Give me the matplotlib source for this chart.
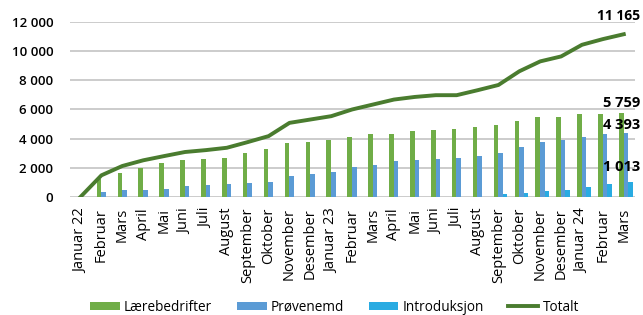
import numpy as np
import matplotlib.pyplot as plt

months = ["Januar 22", "Februar", "Mars", "April", "Mai", "Juni", "Juli",
          "August", "September", "Oktober", "November", "Desember",
          "Januar 23", "Februar", "Mars", "April", "Mai", "Juni", "Juli",
          "August", "September", "Oktober", "November", "Desember",
          "Januar 24", "Februar", "Mars"]

laerebedrifter = [0, 1200, 1620, 1960, 2300, 2510, 2580, 2640, 2990, 3260, 3670,
                  3740, 3880, 4080, 4290, 4350, 4490, 4560, 4630, 4770, 4900,
                  5240, 5450, 5510, 5690, 5690, 5759]
provenemd = [0, 340, 460, 460, 520, 730, 800, 870, 930, 1000, 1410, 1550, 1690,
             2030, 2170, 2440, 2510, 2580, 2640, 2780, 2990, 3400, 3740, 3910,
             4110, 4340, 4393]
introduksjon = [0, 0, 0, 0, 0, 0, 0, 0, 0, 0, 0, 0, 0, 0, 0, 0, 0, 0, 0, 0,
                180, 250, 390, 440, 690, 890, 1013]
totalt = [0, 1480, 2120, 2510, 2800, 3080, 3210, 3370, 3760, 4170, 5080, 5310,
          5540, 6000, 6340, 6680, 6860, 6980, 6980, 7320, 7680, 8620, 9300,
          9640, 10440, 10830, 11165]

plt.rcParams['font.family'] = ['Open Sans', 'DejaVu Sans']

c_green = '#70ad47'
c_blue = '#5b9bd5'
c_light = '#29abe2'
c_line = '#4a7c2f'

fig = plt.figure(figsize=(6.43, 3.15), dpi=100)
ax = fig.add_axes([0.109, 0.375, 0.879, 0.555])

x = np.arange(len(months))
w = 0.22
b1 = ax.bar(x - 0.12, laerebedrifter, w, color=c_green, label="Lærebedrifter", zorder=2)
b2 = ax.bar(x + 0.10, provenemd, w, color=c_blue, label="Prøvenemd", zorder=2)
b3 = ax.bar(x + 0.32, introduksjon, w, color=c_light, label="Introduksjon", zorder=2)
l1, = ax.plot(x, totalt, color=c_line, lw=2.8, label="Totalt", zorder=3)

ax.set_xlim(-0.5, len(months) - 0.45)
ax.set_ylim(0, 12000)
ax.set_yticks(range(0, 12001, 2000))
ax.set_yticklabels([f"{v:,}".replace(",", " ") for v in range(0, 12001, 2000)],
                   fontsize=9.5, fontweight='semibold')
ax.set_xticks(x)
ax.set_xticklabels(months, rotation=90, fontsize=10.5)
ax.tick_params(length=0)
ax.tick_params(axis='y', pad=12)
ax.tick_params(axis='x', pad=8)
ax.grid(axis='y', color='#c8c8c8', lw=1.3, zorder=0)
ax.set_axisbelow(True)
for s in ax.spines.values():
    s.set_visible(False)

last = len(months) - 1
labels = [(totalt[-1], 18, -27, 10), (laerebedrifter[-1], 10, -21, 10.5),
          (provenemd[-1], 8, -21, 10.5), (introduksjon[-1], 15, -21, 10.5)]
for val, dy, dx, fs in labels:
    ax.annotate(f"{val:,}".replace(",", " "), (last, val),
                xytext=(dx, dy), textcoords='offset pixels',
                ha='left', va='center', fontsize=fs, fontweight='bold',
                annotation_clip=False)

fig.legend([b1, b2, b3, l1], ["Lærebedrifter", "Prøvenemd", "Introduksjon", "Totalt"],
           loc='center', bbox_to_anchor=(0.52, 0.025), ncol=4,
           frameon=False, fontsize=9.8, handlelength=2.2, handleheight=0.5,
           columnspacing=1.8, handletextpad=0.3)

fig.savefig("out.png", dpi=100)
